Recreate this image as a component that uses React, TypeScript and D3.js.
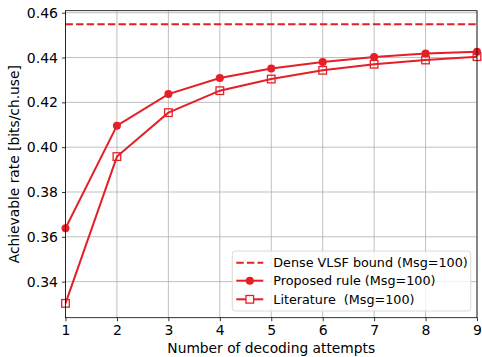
import { useEffect, useRef } from 'react';
import * as d3 from 'd3';

const attempts = [1, 2, 3, 4, 5, 6, 7, 8, 9];
const proposed = [0.3638, 0.4096, 0.4237, 0.4309, 0.4351, 0.438, 0.4402, 0.4418, 0.4426];
const literature = [0.3303, 0.3958, 0.4154, 0.4252, 0.4304, 0.4343, 0.437, 0.4389, 0.4404];
const denseBound = 0.4548;
const xTicks = [1, 2, 3, 4, 5, 6, 7, 8, 9];
const yTicks = [0.34, 0.36, 0.38, 0.4, 0.42, 0.44, 0.46];
const legendLabels = ['Dense VLSF bound (Msg=100)', 'Proposed rule (Msg=100)', 'Literature  (Msg=100)'];

const RED = '#e41f26';
const FONT = 'DejaVu Sans, sans-serif';

export default function App() {
  const svgRef = useRef<SVGSVGElement>(null);

  useEffect(() => {
    if (!svgRef.current) return;
    const width = 482;
    const height = 357;
    const margin = { top: 10.7, right: 5, bottom: 39.3, left: 65.5 };
    const innerWidth = width - margin.left - margin.right;
    const innerHeight = height - margin.top - margin.bottom;

    const svg = d3.select(svgRef.current);
    svg.selectAll('*').remove();
    svg.attr('width', width).attr('height', height);

    const g = svg.append('g').attr('transform', `translate(${margin.left},${margin.top})`);

    const x = d3.scaleLinear().domain([1, 9]).range([0, innerWidth]);
    const y = d3.scaleLinear().domain([0.3239, 0.4609]).range([innerHeight, 0]);

    // Grid
    g.append('g')
      .selectAll('line')
      .data(xTicks)
      .join('line')
      .attr('x1', (d) => x(d))
      .attr('x2', (d) => x(d))
      .attr('y1', 0)
      .attr('y2', innerHeight)
      .attr('stroke', '#b0b0b0')
      .attr('stroke-width', 0.8);
    g.append('g')
      .selectAll('line')
      .data(yTicks)
      .join('line')
      .attr('x1', 0)
      .attr('x2', innerWidth)
      .attr('y1', (d) => y(d))
      .attr('y2', (d) => y(d))
      .attr('stroke', '#b0b0b0')
      .attr('stroke-width', 0.8);

    // Dense bound
    g.append('line')
      .attr('x1', 0)
      .attr('x2', innerWidth)
      .attr('y1', y(denseBound))
      .attr('y2', y(denseBound))
      .attr('stroke', RED)
      .attr('stroke-width', 2)
      .attr('stroke-dasharray', '7.4,3.2');

    const line = d3
      .line<number>()
      .x((_, i) => x(attempts[i]))
      .y((d) => y(d));

    g.append('path').datum(literature).attr('d', line).attr('fill', 'none').attr('stroke', RED).attr('stroke-width', 2);
    g.append('path').datum(proposed).attr('d', line).attr('fill', 'none').attr('stroke', RED).attr('stroke-width', 2);

    g.append('g')
      .selectAll('rect')
      .data(literature)
      .join('rect')
      .attr('x', (_, i) => x(attempts[i]) - 3.8)
      .attr('y', (d) => y(d) - 3.8)
      .attr('width', 7.6)
      .attr('height', 7.6)
      .attr('fill', 'none')
      .attr('stroke', RED)
      .attr('stroke-width', 1.3);

    g.append('g')
      .selectAll('circle')
      .data(proposed)
      .join('circle')
      .attr('cx', (_, i) => x(attempts[i]))
      .attr('cy', (d) => y(d))
      .attr('r', 4)
      .attr('fill', RED);

    // Axes
    const xAxis = g
      .append('g')
      .attr('transform', `translate(0,${innerHeight})`)
      .call(d3.axisBottom(x).tickValues(xTicks).tickSize(3.5).tickPadding(4).tickFormat(d3.format('d')));
    const yAxis = g
      .append('g')
      .call(d3.axisLeft(y).tickValues(yTicks).tickSize(3.5).tickPadding(4).tickFormat(d3.format('.2f')));
    for (const ax of [xAxis, yAxis]) {
      ax.select('.domain').remove();
      ax.selectAll('line').attr('stroke', '#000').attr('stroke-width', 0.8);
      ax.selectAll('text').attr('font-size', 14).attr('font-family', FONT).attr('fill', '#000');
    }

    // Spines
    g.append('rect')
      .attr('width', innerWidth)
      .attr('height', innerHeight)
      .attr('fill', 'none')
      .attr('stroke', '#000')
      .attr('stroke-width', 0.8);

    // Axis labels
    svg
      .append('text')
      .attr('x', margin.left + innerWidth / 2)
      .attr('y', height - 4)
      .attr('text-anchor', 'middle')
      .attr('font-size', 13.8)
      .attr('font-family', FONT)
      .text('Number of decoding attempts');
    svg
      .append('text')
      .attr('transform', `translate(19,${margin.top + innerHeight / 2}) rotate(-90)`)
      .attr('text-anchor', 'middle')
      .attr('font-size', 13.8)
      .attr('font-family', FONT)
      .text('Achievable rate [bits/ch.use]');

    // Legend
    const legend = svg.append('g').attr('transform', 'translate(232.3,251)');
    legend
      .append('rect')
      .attr('width', 238.4)
      .attr('height', 60)
      .attr('rx', 3)
      .attr('fill', '#fff')
      .attr('fill-opacity', 0.8)
      .attr('stroke', '#d0d0d0')
      .attr('stroke-width', 0.8);
    const rows = [11.7, 29.7, 48.3];
    legendLabels.forEach((label, i) => {
      const ly = rows[i];
      const row = legend.append('g');
      const ln = row
        .append('line')
        .attr('x1', 4)
        .attr('x2', 31)
        .attr('y1', ly)
        .attr('y2', ly)
        .attr('stroke', RED)
        .attr('stroke-width', 2);
      if (i === 0) ln.attr('stroke-dasharray', '7.4,3.2');
      if (i === 1) row.append('circle').attr('cx', 17.5).attr('cy', ly).attr('r', 4).attr('fill', RED);
      if (i === 2)
        row
          .append('rect')
          .attr('x', 17.5 - 3.8)
          .attr('y', ly - 3.8)
          .attr('width', 7.6)
          .attr('height', 7.6)
          .attr('fill', '#fff')
          .attr('stroke', RED)
          .attr('stroke-width', 1.3);
      row
        .append('text')
        .attr('x', 41)
        .attr('y', ly)
        .attr('dy', '0.35em')
        .attr('font-size', 12.75)
        .attr('font-family', FONT)
        .style('white-space', 'pre')
        .text(label);
    });
  }, []);

  return <svg ref={svgRef} style={{ position: 'absolute', left: 0, top: 0 }} />;
}
